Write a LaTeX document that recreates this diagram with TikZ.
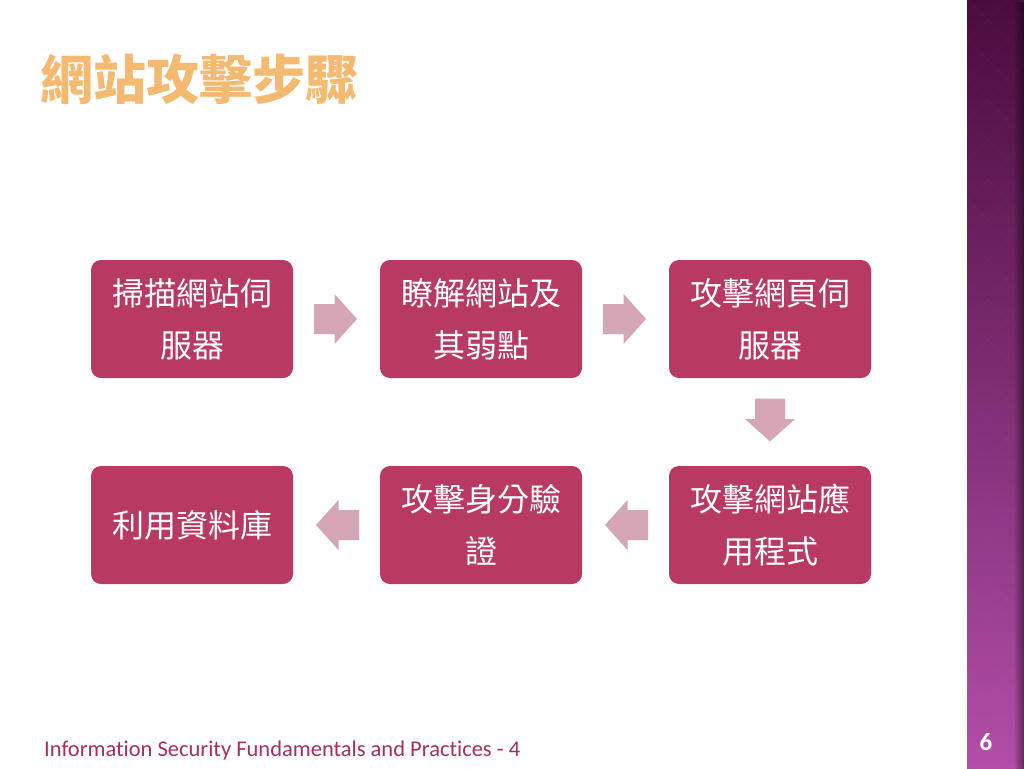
\documentclass[tikz,border=0pt]{standalone}
\usepackage{fontspec}
\setmainfont[Ligatures=NoCommon]{Carlito}
\newfontfamily\cjk{Noto Sans CJK TC}
\usetikzlibrary{calc,fadings}
\definecolor{boxfill}{HTML}{B83A62}
\definecolor{arrowfill}{HTML}{D4A6B6}
\definecolor{bandtop}{HTML}{4A0C3E}
\definecolor{bandbot}{HTML}{B24EA8}
\definecolor{titlecol}{HTML}{F4BA72}
\definecolor{footcol}{HTML}{A3305E}
\tikzset{
  stepbox/.style={rectangle, rounded corners=10pt, fill=boxfill, draw=none,
    minimum width=202pt, minimum height=118pt, inner sep=0pt, text=white,
    align=center, font=\cjk\fontsize{32}{52}\selectfont},
  barrow/.pic={\fill[arrowfill] (-21.5,-15) -- (-1,-15) -- (-1,-25) -- (21.5,0)
     -- (-1,25) -- (-1,15) -- (-21.5,15) -- cycle;}
}
\begin{document}
\begin{tikzpicture}[x=1pt,y=-1pt]
\useasboundingbox (0,0) rectangle (1024,768);
\fill[white] (0,0) rectangle (1024,768);
% right band
\shade[top color=bandtop, bottom color=bandbot] (967,0) rectangle (1024,768);
\begin{scope}
\clip (967,0) rectangle (1024,768);
\foreach \k in {-20,...,20} {
  \draw[white, opacity=0.025, line width=0.8pt] (967+\k*40,0) -- ++(768,768);
  \draw[white, opacity=0.025, line width=0.8pt] (967+\k*40,0) -- ++(-768,768);
}
\end{scope}
\fill[black, opacity=0.45, path fading=west] (1013,0) rectangle (1024,768);
% title
\node[anchor=base west, inner sep=0pt, text=titlecol, font=\cjk\bfseries\fontsize{53}{60}\selectfont] (title) at (40,99) {網站攻擊步驟};
% boxes
\node[stepbox] (b1) at (192,319) {掃描網站伺\\服器};
\node[stepbox] (b2) at (481,319) {瞭解網站及\\其弱點};
\node[stepbox] (b3) at (770,319) {攻擊網頁伺\\服器};
\node[stepbox] (b4) at (770,525) {攻擊網站應\\用程式};
\node[stepbox] (b5) at (481,525) {攻擊身分驗\\證};
\node[stepbox] (b6) at (192,525) {利用資料庫};
% arrows
\coordinate (m12) at ($(b1.east)!0.5!(b2.west)$);
\coordinate (m23) at ($(b2.east)!0.5!(b3.west)$);
\coordinate (m34) at ($(b3.south)!0.5!(b4.north)$);
\coordinate (m45) at ($(b4.west)!0.5!(b5.east)$);
\coordinate (m56) at ($(b5.west)!0.5!(b6.east)$);
\pic at ($(m12)+(-1,0)$) {barrow};
\pic at ($(m23)+(-1,0)$) {barrow};
\pic[rotate=-90] at ($(m34)+(0,-2)$) {barrow};
\pic[rotate=180] at ($(m45)+(1,0)$) {barrow};
\pic[rotate=180] at ($(m56)+(1,0)$) {barrow};
% footer
\node[anchor=base west, inner sep=0pt, text=footcol, font=\fontsize{22.5}{26}\selectfont] (foot) at (44,756) {Information Security Fundamentals and Practices - 4};
\node[anchor=base, inner sep=0pt, text=white, font=\bfseries\fontsize{25}{30}\selectfont] (num) at (986,750) {6};
\end{tikzpicture}
\end{document}
